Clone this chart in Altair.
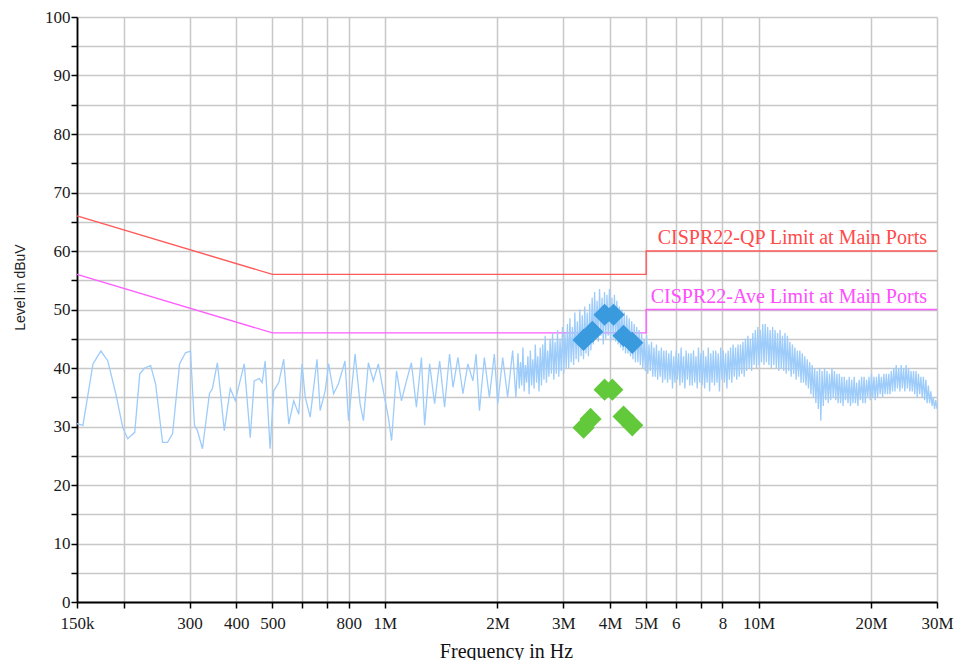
import altair as alt
import numpy as np
import pandas as pd

# ---------------- data ----------------
# Low-frequency part of the measured trace (kHz, dBuV)
low_f_khz = [150, 155.6, 165.5, 173.8, 181.4, 190.5, 198.9, 205.0, 214.1, 220.8,
             227.6, 236.1, 243.4, 254.1, 262.1, 270.3, 282.2, 292.6, 301.8, 309.3,
             315.0, 324.9, 339.2, 345.5, 356.3, 371.7, 385.7, 397.7, 420.3, 436.1,
             446.9, 460.8, 469.4, 478.1, 492.9, 504, 520, 536, 553, 570,
             588, 600, 612, 631, 658, 671, 692, 707, 729, 751,
             782, 799, 832, 858, 876, 903, 931, 960, 990, 1021,
             1042, 1074, 1107, 1142, 1177, 1214, 1252, 1277, 1317, 1358,
             1401, 1444, 1489, 1521, 1568, 1617, 1667, 1719, 1754, 1790,
             1845, 1903, 1962, 2004, 2066, 2130, 2196, 2241]
low_lvl = [30.5, 30.2, 40.7, 42.9, 41.2, 35.6, 29.8, 27.9, 29.0, 39.0,
           40.0, 40.4, 37.3, 27.3, 27.3, 28.8, 40.7, 42.6, 42.9, 30.2,
           29.3, 26.2, 35.6, 36.5, 40.9, 29.3, 36.5, 34.4, 40.7, 28.1,
           37.8, 38.2, 37.5, 41.2, 26.2, 36.1, 37.5, 41.5, 30.4, 34.4,
           32.1, 40.7, 35.0, 31.6, 41.5, 32.7, 36.1, 40.7, 35.6, 37.3,
           41.2, 31.0, 42.4, 33.9, 31.0, 40.9, 37.8, 40.7, 36.1, 31.6,
           27.6, 39.5, 34.4, 37.8, 40.9, 33.3, 41.8, 30.2, 40.7, 33.9,
           41.2, 33.3, 42.4, 36.7, 41.8, 35.6, 40.7, 37.8, 42.4, 32.7,
           41.8, 35.0, 42.4, 33.9, 41.8, 35.0, 43.0, 35.0]

# Dense sweep part of the trace, 2.27 MHz .. 30 MHz (dBuV)
dense_start_hz = 2.27e6
dense_stop_hz = 30e6
dense_lvl = [
    42.5, 36.5, 41, 37, 43.5, 36, 40.5, 37.5, 42, 35.5, 43, 37, 41.5, 36.5, 44, 37.5, 42, 36, 43.5, 37,
    44, 38, 45.5, 37.5, 43, 38.5, 45, 39, 46, 38, 44.5, 39, 46.5, 38.5, 45, 39.5, 47, 39, 46, 40,
    47.5, 40, 48.5, 41, 47, 40.5, 49.5, 41.5, 48, 41, 50, 42, 49, 41.5, 50.5, 42.5, 49.5, 42, 51, 43,
    52, 44, 53, 45, 51.5, 44.5, 53.5, 45.5, 52, 44, 53, 45, 52.5, 45.5, 53.5, 44.5, 52, 45, 52.5, 44.5,
    51.5, 44, 50.5, 43.5, 50, 43, 49.5, 42.5, 49, 42.5, 48.5, 42, 48, 41.5, 47.5, 41, 47, 41, 46.5, 40.5,
    46, 40, 45, 39.5, 45.5, 39, 44, 39.5, 44.5, 38.5, 43.5, 38.5, 44, 38, 43, 38.5, 43.5, 37.5, 43, 38,
    43, 37.5, 42.5, 38, 43, 36.5, 42, 37.5, 43, 38, 42.5, 37, 43.5, 37.5, 42, 36.5, 43, 38, 42.5, 37,
    42.5, 37, 43, 37.5, 42, 36.5, 43.5, 37.5, 42.5, 37, 43, 36.5, 42, 37.5, 43.5, 36, 42.5, 37.5, 43, 37,
    43, 37.5, 42.5, 36, 43.5, 38, 43, 37.5, 42.5, 36.5, 43, 38, 43.5, 37.5, 44, 38.5, 43.5, 38, 44, 38.5,
    44, 39, 44.5, 38.5, 45, 39.5, 45.5, 40, 45, 39.5, 46, 40.5, 46.5, 40, 47, 40.5, 46.5, 41, 47.5, 40.5,
    47.5, 41, 47, 40.5, 46.5, 40, 47, 40.5, 46.5, 40, 46, 39.5, 46.5, 40, 45.5, 39.5, 46, 39, 45.5, 39.5,
    44.5, 38.5, 44, 39, 43.5, 38, 43, 38.5, 43, 37.5, 42.5, 37.5, 42, 37, 41.5, 36.5, 41, 35.5, 40.5, 35,
    40, 34, 39.5, 33, 40, 31, 39.5, 33.5, 40, 34.5, 39.5, 34, 39, 34.5, 40, 35, 39.5, 34.5, 39, 34,
    39, 34, 38.5, 33.5, 38.5, 34.5, 38, 34, 38.5, 33.5, 38, 34, 38.5, 34, 37.5, 33.5, 38, 34.5, 38.5, 34,
    38.5, 34, 38, 35, 38.5, 34.5, 39, 35, 38.5, 34.5, 38.5, 35, 39, 35.5, 38.5, 35, 39, 35.5, 39, 35.5,
    39, 35.5, 39.5, 36, 40, 36, 40.5, 36.5, 40, 36, 40.5, 36.5, 40, 36, 40.5, 36.5, 40, 36, 39.5, 36,
    39.5, 35.5, 39.5, 35, 39, 35.5, 38.5, 35, 38.5, 34.5, 38, 34, 37, 34, 36, 33.5, 35, 33, 34.5, 33,
]

# Limit lines (Hz, dBuV)
qp_f = [150e3, 500e3, 5e6, 5e6, 30e6]
qp_lvl = [66, 56, 56, 60, 60]
av_f = [150e3, 500e3, 5e6, 5e6, 30e6]
av_lvl = [56, 46, 46, 50, 50]

# Final measurement markers
qp_pts_f = [3.40e6, 3.59e6, 3.87e6, 4.09e6, 4.35e6, 4.59e6]
qp_pts_lvl = [44.8, 46.2, 49.1, 49.1, 45.5, 44.3]
av_pts_f = [3.40e6, 3.55e6, 3.87e6, 4.06e6, 4.35e6, 4.59e6]
av_pts_lvl = [29.8, 31.3, 36.3, 36.3, 31.7, 30.2]

# Axis ticks
x_tick_vals = [150e3, 200e3, 300e3, 400e3, 500e3, 600e3, 700e3, 800e3, 1e6,
               2e6, 3e6, 4e6, 5e6, 6e6, 7e6, 8e6, 10e6, 20e6, 30e6]
x_tick_text = ["150k", "", "300", "400", "500", "", "", "800", "1M",
               "2M", "3M", "4M", "5M", "6", "", "8", "10M", "20M", "30M"]
y_tick_vals = list(range(0, 101, 5))

qp_label = "CISPR22-QP Limit at Main Ports"
av_label = "CISPR22-Ave Limit at Main Ports"

# ---------------- tables ----------------
dense_f = np.geomspace(dense_start_hz, dense_stop_hz, len(dense_lvl))
trace = pd.DataFrame({
    "f": [v * 1e3 for v in low_f_khz] + list(dense_f),
    "lvl": low_lvl + dense_lvl,
})
trace["o"] = range(len(trace))

qp = pd.DataFrame({"f": qp_f, "lvl": qp_lvl, "o": range(len(qp_f))})
av = pd.DataFrame({"f": av_f, "lvl": av_lvl, "o": range(len(av_f))})
qp_pts = pd.DataFrame({"f": qp_pts_f, "lvl": qp_pts_lvl})
av_pts = pd.DataFrame({"f": av_pts_f, "lvl": av_pts_lvl})
labels_df = pd.DataFrame({"f": [30e6, 30e6], "lvl": [60, 50],
                          "t": [qp_label, av_label], "k": ["qp", "av"]})

parts = []
for v, t in zip(x_tick_vals, x_tick_text):
    parts.append(f"abs(datum.value - {v:.0f}) < 1 ? '{t}' : ")
x_label_expr = "".join(parts) + "''"

SERIF = "Liberation Serif"

x_enc = alt.X("f:Q",
              scale=alt.Scale(type="log", domain=[150e3, 30e6], nice=False, zero=False),
              axis=alt.Axis(values=x_tick_vals, labelExpr=x_label_expr,
                            title="Frequency in Hz", titleFont=SERIF, titleFontSize=20,
                            titleFontWeight="normal", titleColor="#111",
                            titleBaseline="alphabetic", titleY=55, titleX=429,
                            labelFont=SERIF, labelFontSize=17, labelColor="#1a1a1a",
                            labelPadding=7, labelOverlap=False, labelFlush=False,
                            labelBound=False,
                            tickSize=6, tickColor="#000", tickWidth=1.5,
                            domainColor="#000", domainWidth=1.8,
                            grid=True, gridColor="#c8c8c8", gridWidth=1.5))
y_enc = alt.Y("lvl:Q",
              scale=alt.Scale(domain=[0, 100], nice=False, zero=False),
              axis=alt.Axis(values=y_tick_vals,
                            labelExpr="datum.value % 10 === 0 ? datum.label : ''",
                            title="Level in dBuV", titleFont="Liberation Sans",
                            titleFontSize=14, titleFontWeight="normal", titleColor="#222",
                            titleAngle=270, titleX=-57, titleY=270,
                            titleAlign="center", titleBaseline="middle",
                            labelFont=SERIF, labelFontSize=17, labelColor="#1a1a1a",
                            labelPadding=1, labelOverlap=False, labelFlush=False,
                            tickSize=6, tickColor="#000", tickWidth=1.5,
                            domainColor="#000", domainWidth=1.8,
                            grid=True, gridColor="#c8c8c8", gridWidth=1.5))

trace_layer = alt.Chart(trace).mark_line(color="#9dccfb", strokeWidth=1.3).encode(
    x=x_enc, y=y_enc, order="o:Q")
qp_layer = alt.Chart(qp).mark_line(color="#ff5858", strokeWidth=1.4).encode(
    x=x_enc, y=y_enc, order="o:Q")
av_layer = alt.Chart(av).mark_line(color="#ff5cff", strokeWidth=1.4).encode(
    x=x_enc, y=y_enc, order="o:Q")
qp_pt_layer = alt.Chart(qp_pts).mark_point(shape="diamond", filled=True, size=490,
                                           color="#3a9ade", opacity=1).encode(x=x_enc, y=y_enc)
av_pt_layer = alt.Chart(av_pts).mark_point(shape="diamond", filled=True, size=490,
                                           color="#62c93a", opacity=1).encode(x=x_enc, y=y_enc)
qp_text = alt.Chart(labels_df[labels_df.k == "qp"]).mark_text(
    font=SERIF, fontSize=20, color="#ff4a4a", align="right", baseline="middle",
    dx=-10, dy=-13).encode(x=x_enc, y=y_enc, text="t:N")
av_text = alt.Chart(labels_df[labels_df.k == "av"]).mark_text(
    font=SERIF, fontSize=20, color="#ff4dff", align="right", baseline="middle",
    dx=-10, dy=-13).encode(x=x_enc, y=y_enc, text="t:N")

chart = alt.layer(qp_layer, av_layer, trace_layer, qp_pt_layer, av_pt_layer,
                  qp_text, av_text).properties(
    width=860, height=585,
    autosize=alt.AutoSizeParams(type="none"),
    padding={"left": 69, "top": 9, "right": 18, "bottom": 58},
    background="white",
).configure_view(stroke=None).configure_axis(
    labelFont=SERIF, titleFont=SERIF
)

chart.save("out.html", embed_options={"renderer": "svg", "actions": False})
